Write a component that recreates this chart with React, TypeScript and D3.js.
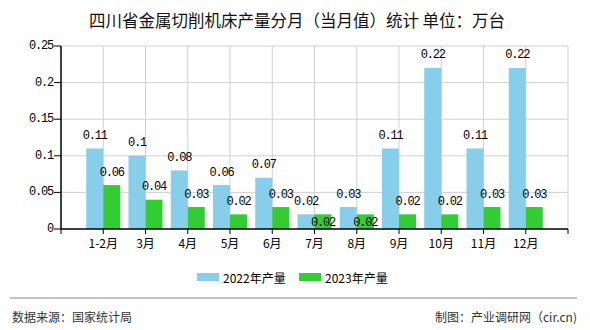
import React from "react";
import * as d3 from "d3";

const categories = ["1-2月", "3月", "4月", "5月", "6月", "7月", "8月", "9月", "10月", "11月", "12月"];
const series2022 = [0.11, 0.1, 0.08, 0.06, 0.07, 0.02, 0.03, 0.11, 0.22, 0.11, 0.22];
const series2023 = [0.06, 0.04, 0.03, 0.02, 0.03, 0.02, 0.02, 0.02, 0.02, 0.03, 0.03];
const yTicks = [0, 0.05, 0.1, 0.15, 0.2, 0.25];
const seriesNames = ["2022年产量", "2023年产量"];
const colors = ["#87CEEB", "#32CD32"];

const W = 590, H = 330;
const left = 61, right = 568, top = 46, bottom = 229;
const CJK = "'Noto Sans CJK SC', 'Noto Sans', sans-serif";
const MONO = "'Liberation Mono', 'DejaVu Sans Mono', monospace";

export default function App() {
  const x = d3.scalePoint<string>().domain(categories).range([left, right]).padding(1);
  const y = d3.scaleLinear().domain([0, 0.25]).range([bottom, top]);
  const barW = 17;
  const fmt = (v: number) => String(+v.toFixed(2));

  const labels: React.ReactNode[] = [];
  categories.forEach((c, i) => {
    const cx = x(c)!;
    const yb = y(series2022[i]) - 12.5;
    let yg = y(series2023[i]) - 12.5;
    if (Math.abs(yg - yb) < 12) yg += 21;
    labels.push(
      <text key={"lb" + i} x={cx - barW / 2} y={yb} textAnchor="middle" dominantBaseline="central"
        fontFamily={MONO} fontSize={12} letterSpacing={-1.2} fill="#000">{fmt(series2022[i])}</text>
    );
    labels.push(
      <text key={"lg" + i} x={cx + barW / 2} y={yg} textAnchor="middle" dominantBaseline="central"
        fontFamily={MONO} fontSize={12} letterSpacing={-1.2} fill="#000">{fmt(series2023[i])}</text>
    );
  });

  return (
    <svg width={W} height={H} style={{ position: "absolute", left: 0, top: 0, background: "#fff" }}>
      <text x={297} y={20} textAnchor="middle" dominantBaseline="central" fontFamily={CJK}
        fontSize={16.5} fill="#111">四川省金属切削机床产量分月（当月值）统计 单位：万台</text>

      {/* horizontal grid */}
      {yTicks.filter(t => t > 0).map(t => (
        <line key={"hg" + t} x1={left} x2={right} y1={y(t)} y2={y(t)} stroke="#d0d0d0" strokeWidth={1} />
      ))}
      {/* vertical grid */}
      {categories.map(c => (
        <line key={"vg" + c} x1={x(c)} x2={x(c)} y1={top} y2={bottom} stroke="#d0d0d0" strokeWidth={1} />
      ))}
      <line x1={right} x2={right} y1={top} y2={bottom} stroke="#d0d0d0" strokeWidth={1} />

      {/* bars */}
      {categories.map((c, i) => (
        <g key={"b" + c}>
          <rect x={x(c)! - barW} y={y(series2022[i])} width={barW} height={bottom - y(series2022[i])} fill={colors[0]} />
          <rect x={x(c)!} y={y(series2023[i])} width={barW} height={bottom - y(series2023[i])} fill={colors[1]} />
        </g>
      ))}

      {labels}

      {/* y axis */}
      <line x1={left} x2={left} y1={top} y2={bottom + 0.5} stroke="#000" strokeWidth={1.5} />
      {yTicks.map(t => (
        <g key={"yt" + t}>
          <line x1={left - 7} x2={left} y1={y(t)} y2={y(t)} stroke="#000" strokeWidth={1} />
          <text x={left - 8} y={y(t)} textAnchor="end" dominantBaseline="central" fontFamily={MONO}
            fontSize={12} letterSpacing={-1.2} fill="#000">{fmt(t)}</text>
        </g>
      ))}

      {/* x axis */}
      <line x1={left} x2={right} y1={bottom} y2={bottom} stroke="#000" strokeWidth={1.5} />
      {[left, ...categories.map(c => x(c)!), right].map((px, i) => (
        <line key={"xt" + i} x1={px} x2={px} y1={bottom} y2={bottom + 5} stroke="#000" strokeWidth={1} />
      ))}
      {categories.map(c => (
        <text key={"xl" + c} x={x(c)} y={242} textAnchor="middle" dominantBaseline="central"
          fontFamily={CJK} fontSize={12} fill="#000">{c}</text>
      ))}

      {/* legend */}
      <rect x={197} y={273} width={22} height={8} fill={colors[0]} />
      <text x={223} y={277} dominantBaseline="central" fontFamily={CJK} fontSize={12} fill="#000">{seriesNames[0]}</text>
      <rect x={299} y={273} width={22} height={8} fill={colors[1]} />
      <text x={325} y={277} dominantBaseline="central" fontFamily={CJK} fontSize={12} fill="#000">{seriesNames[1]}</text>

      {/* footer */}
      <line x1={10} x2={577} y1={298} y2={298} stroke="#888" strokeWidth={1} />
      <text x={12} y={316} dominantBaseline="central" fontFamily={CJK} fontSize={12} fill="#333">数据来源：国家统计局</text>
      <text x={577} y={316} textAnchor="end" dominantBaseline="central" fontFamily={CJK} fontSize={12} fill="#333">制图：产业调研网（cir.cn)</text>
    </svg>
  );
}
